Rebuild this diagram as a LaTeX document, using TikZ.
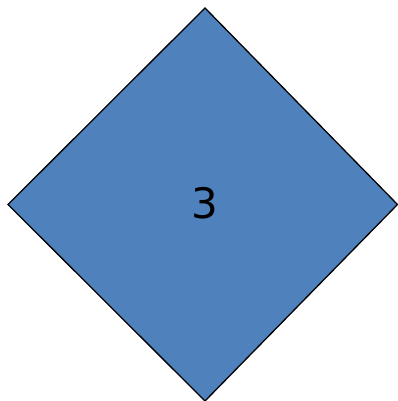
\documentclass[tikz,border=0pt]{standalone}
\usepackage{fontspec}
\setmainfont{DejaVu Sans}
\definecolor{dfill}{HTML}{4F81BD}
\tikzset{dshape/.style={fill=dfill,draw=black,line width=1.3pt,line join=miter}}
\begin{document}
\begin{tikzpicture}[x=1pt,y=-1pt]
\useasboundingbox (0,0) rectangle (397,401);
\coordinate (t) at (205,8);
\coordinate (r) at (397.5,204.5);
\coordinate (b) at (205,401);
\coordinate (l) at (8,204.5);
\draw[dshape] (t) -- (r) -- (b) -- (l) -- cycle;
\node[font=\fontsize{42}{50}\selectfont,inner sep=0pt] (lbl) at (205,203) {3};
\end{tikzpicture}
\end{document}
